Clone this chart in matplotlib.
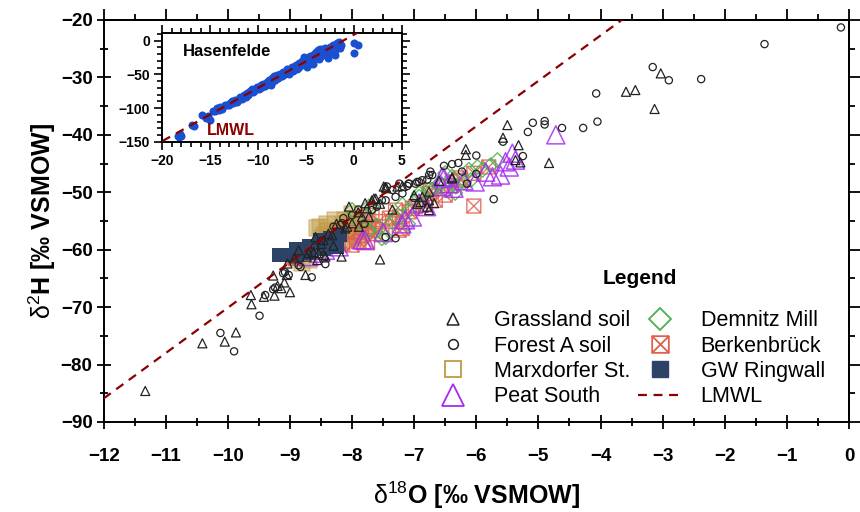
import matplotlib

matplotlib.use("Agg")
import matplotlib.pyplot as plt
from matplotlib.lines import Line2D
from matplotlib.path import Path
from matplotlib.ticker import MultipleLocator
import numpy as np

plt.rcParams["font.family"] = ["Liberation Sans", "DejaVu Sans"]
plt.rcParams["mathtext.fontset"] = "custom"
plt.rcParams["mathtext.rm"] = "Liberation Sans"
plt.rcParams["mathtext.bf"] = "Liberation Sans:bold"
plt.rcParams["mathtext.it"] = "Liberation Sans:italic"

# LMWL: d2H = slope * d18O + intercept
LMWL_SLOPE = 7.9
LMWL_INTERCEPT = 8.9

grass_x = [-11.33, -10.41, -10.05, -9.87, -9.63, -9.62, -9.42, -9.25, -9.27, -9.09,
           -9.05, -9.00, -9.14, -9.20, -9.04, -8.93, -8.75, -8.70, -8.62, -8.54,
           -8.46, -8.17, -8.05, -8.38, -8.08, -7.89, -7.84, -7.68, -7.55, -7.46,
           -8.59, -8.46, -8.32, -8.11, -8.00, -7.79, -8.86, -8.73, -8.56, -8.43,
           -7.45, -7.27, -7.19, -6.39, -6.90, -6.79, -6.76, -7.62, -7.76, -7.73,
           -6.17, -6.17, -6.39, -6.76, -6.68, -6.87, -6.76, -5.50, -5.57, -5.32,
           -4.83, -5.29, -3.03, -3.59, -3.44, -3.13, -7.90, -7.55, -7.00, -6.60,
           -8.25, -8.50, -7.65, -7.49, -5.37, -8.30, -7.35, -6.95]
grass_y = [-84.6, -76.3, -76.0, -74.4, -67.9, -69.5, -68.2, -68.0, -64.5, -65.7,
           -64.4, -67.4, -66.7, -66.3, -62.4, -61.5, -64.4, -60.6, -60.4, -60.6,
           -60.9, -61.2, -52.5, -57.2, -56.0, -56.0, -54.3, -51.4, -61.7, -49.1,
           -57.8, -58.3, -57.5, -56.3, -55.4, -51.9, -60.1, -61.2, -61.8, -61.2,
           -49.3, -49.0, -48.9, -47.6, -51.7, -52.5, -53.1, -51.1, -52.8, -54.3,
           -42.5, -43.5, -47.4, -51.4, -51.9, -50.8, -49.9, -38.3, -40.5, -41.8,
           -44.9, -44.8, -29.3, -32.5, -32.2, -35.5, -53.5, -52.0, -50.5, -48.0,
           -55.5, -59.0, -51.1, -49.0, -44.4, -59.3, -53.0, -52.0]

forest_x = [-0.13, -1.36, -3.16, -2.90, -2.38, -4.07, -4.05, -4.28, -4.62, -4.90,
            -4.90, -5.09, -5.17, -5.57, -6.00, -5.25, -5.72, -6.52, -6.39, -6.29,
            -6.74, -6.95, -7.11, -6.87, -6.23, -6.00, -6.15, -7.09, -6.98, -6.79,
            -6.71, -7.46, -7.30, -7.19, -7.46, -7.30, -10.12, -9.90, -9.49, -9.40,
            -9.27, -9.24, -9.11, -8.86, -8.43, -8.16, -8.65, -8.83, -9.08, -9.02,
            -8.14, -8.19, -7.68, -7.52, -7.44, -7.35, -7.24, -7.08, -6.92, -6.76,
            -8.00, -7.90, -7.60, -8.30, -8.50, -8.60, -7.80, -7.00]
forest_y = [-21.3, -24.2, -28.2, -30.5, -30.3, -32.8, -37.7, -38.8, -38.8, -37.6,
            -38.2, -37.9, -39.5, -41.2, -43.6, -43.7, -51.2, -45.4, -45.1, -44.9,
            -46.4, -48.2, -48.9, -47.9, -46.4, -46.8, -48.5, -48.5, -48.5, -47.8,
            -47.0, -51.4, -50.8, -50.2, -57.8, -58.0, -74.5, -77.7, -71.5, -67.9,
            -66.9, -66.6, -64.1, -62.7, -62.5, -55.4, -64.8, -63.0, -63.9, -64.4,
            -54.5, -55.7, -53.1, -51.4, -49.0, -49.6, -48.5, -48.5, -48.2, -47.0,
            -54.0, -53.0, -52.5, -56.0, -58.5, -59.5, -55.5, -51.0]

marx_x = [-8.91, -8.81, -8.70, -8.56, -8.51, -8.45, -8.38, -8.30, -8.27, -8.22,
          -8.15, -8.10, -8.05, -8.00, -7.95, -7.90, -7.85, -7.80, -8.35, -8.20,
          -8.05, -7.92, -8.48, -8.12, -7.75, -7.65, -8.40, -8.00]
marx_y = [-61.5, -62.4, -61.8, -56.3, -56.0, -57.5, -56.8, -57.9, -54.8, -56.5,
          -55.6, -57.2, -56.0, -55.0, -56.8, -55.4, -57.6, -56.3, -58.5, -58.6,
          -58.3, -57.9, -58.0, -54.9, -55.2, -56.5, -55.5, -53.8]

peat_x = [-8.70, -8.54, -8.43, -8.21, -7.84, -7.14, -7.03, -7.79, -6.55, -6.44,
          -6.55, -6.36, -6.02, -5.42, -5.37, -5.47, -5.61, -5.74, -6.52, -6.92,
          -4.72, -5.53, -7.50, -6.80, -5.85, -7.20, -6.20]
peat_y = [-61.2, -60.6, -60.1, -59.5, -58.3, -54.8, -54.3, -58.3, -47.3, -48.5,
          -49.0, -49.3, -48.2, -43.2, -44.4, -45.6, -47.0, -47.3, -47.5, -51.9,
          -40.0, -44.7, -57.0, -52.5, -46.5, -55.5, -48.0]

demnitz_x = [-8.00, -7.73, -7.46, -7.30, -7.08, -6.92, -6.71, -6.60, -7.52, -7.35,
             -7.19, -6.92, -6.76, -6.60, -6.47, -6.33, -6.50, -6.12, -5.98, -7.68,
             -7.73, -5.66, -5.77, -5.90, -6.09, -6.34, -6.39, -7.90, -7.60, -6.20,
             -7.10]
demnitz_y = [-53.1, -52.5, -57.8, -54.3, -53.1, -50.8, -49.6, -48.5, -58.0, -55.1,
             -52.2, -50.2, -49.6, -49.0, -49.6, -49.0, -46.7, -46.1, -45.6, -52.5,
             -56.6, -44.4, -45.3, -46.1, -47.9, -50.1, -47.3, -55.0, -55.8, -48.3,
             -55.5]

berk_x = [-8.91, -8.95, -8.00, -7.89, -7.73, -7.57, -7.40, -7.24, -7.08, -6.98,
          -6.82, -6.66, -6.50, -7.24, -7.35, -7.19, -7.03, -6.76, -6.25, -6.04,
          -7.30, -7.68, -7.79, -7.52, -7.63, -5.80, -6.26, -6.74, -6.04, -8.30,
          -8.15, -7.85, -7.75, -8.20, -7.95, -6.40]
berk_y = [-61.5, -61.3, -59.2, -58.6, -56.0, -55.1, -54.5, -54.3, -53.4, -52.5,
          -52.2, -51.4, -50.5, -56.6, -55.1, -56.3, -52.8, -50.2, -47.9, -46.7,
          -53.1, -54.0, -54.8, -56.0, -57.2, -45.6, -47.5, -49.6, -52.4, -58.5,
          -59.0, -57.5, -58.8, -57.0, -57.0, -48.8]

ring_x = [-9.18, -9.08, -8.90, -8.88, -8.70, -8.70, -8.52, -8.45, -8.35, -8.25, -8.20]
ring_y = [-61.0, -61.0, -59.8, -61.0, -59.3, -60.5, -58.3, -59.8, -58.0, -59.5, -57.5]

hasen_x = [-18.4, -18.2, -18.0, -18.3, -16.9, -16.7, -15.9, -15.4, -15.0, -15.2,
           -14.7, -14.5, -14.3, -14.0, -13.8, -13.5, -13.2, -12.9, -12.7, -12.4,
           -12.2, -11.9, -11.7, -11.5, -11.2, -11.0, -10.8, -10.6, -10.4, -10.1,
           -9.9, -9.7, -9.5, -9.3, -9.1, -8.9, -8.8, -8.6, -8.5, -8.3,
           -8.2, -8.0, -7.9, -7.7, -7.5, -7.4, -7.2, -7.0, -6.9, -6.7,
           -6.5, -6.4, -6.2, -6.0, -5.9, -5.7, -5.6, -5.4, -5.3, -5.2,
           -5.1, -4.9, -4.8, -4.6, -4.5, -4.3, -4.2, -4.0, -3.9, -3.7,
           -3.5, -3.4, -3.2, -3.0, -2.8, -2.7, -2.5, -2.4, -2.2, -2.0,
           -1.9, -1.8, -1.6, -1.5, -1.3, 0.0, 0.4, 0.0,
           -14.1, -13.0, -12.0, -11.3, -10.5, -9.8, -9.0, -8.4, -7.8, -7.1,
           -6.6, -6.1, -5.5, -5.0, -4.4, -3.8, -3.3, -2.6, -2.1, -1.7,
           -12.6, -10.9, -9.6, -8.1, -6.8, -5.8, -4.7, -3.6, -2.3, -1.4]
hasen_y = [-141, -139, -141, -143, -125, -127, -110, -115, -117, -112,
           -104, -105, -100, -98, -101, -96, -95, -93, -90, -88,
           -91, -84, -86, -80, -77, -80, -74, -72, -75, -69,
           -71, -66, -64, -67, -61, -58, -63, -66, -56, -53,
           -58, -51, -55, -49, -52, -46, -50, -42, -47, -44,
           -39, -45, -41, -36, -42, -33, -38, -30, -35, -24,
           -27, -39, -31, -22, -28, -34, -20, -17, -25, -14,
           -13, -22, -12, -11, -19, -25, -9, -15, -7, -21,
           -12, -4, -9, -2, -6, -4, -7, -18,
           -103, -96, -87, -83, -76, -70, -64, -60, -54, -47,
           -43, -38, -35, -30, -26, -20, -17, -14, -11, -7,
           -92, -78, -68, -57, -49, -40, -35, -27, -17, -11]

C_GOLD = "#c09a45"
C_PURPLE = "#a52cf0"
C_GREEN = "#4caf50"
C_RED = "#e0604e"
C_NAVY = "#2c4266"
C_LMWL = "#8b0000"
C_BLUE = "#1a4fd0"

# square with a cross inside (Berkenbrück)
BOXX = Path(
    [(-1, -1), (1, -1), (1, 1), (-1, 1), (-1, -1), (-1, -1), (1, 1), (-1, 1), (1, -1)],
    [Path.MOVETO, Path.LINETO, Path.LINETO, Path.LINETO, Path.CLOSEPOLY,
     Path.MOVETO, Path.LINETO, Path.MOVETO, Path.LINETO],
)


def style_ticks(axis_obj, direction, major_len, minor_len, width=1.3):
    axis_obj.tick_params(which="both", direction=direction, width=width)
    axis_obj.tick_params(which="major", length=major_len)
    axis_obj.tick_params(which="minor", length=minor_len)


fig = plt.figure(figsize=(8.6, 5.12), dpi=100)
ax = fig.add_axes([0.1205, 0.1758, 0.8667, 0.7852])

ax.scatter(marx_x, marx_y, s=11**2, marker="s", facecolors=C_GOLD, edgecolors=C_GOLD,
           alpha=0.45, linewidths=1.2, zorder=2)
ax.scatter(berk_x, berk_y, s=10**2, marker=BOXX, facecolors="none", edgecolors=C_RED,
           alpha=0.85, linewidths=1.0, zorder=3)
ax.scatter(demnitz_x, demnitz_y, s=7.5**2, marker="D", facecolors="none", edgecolors=C_GREEN,
           alpha=0.85, linewidths=1.0, zorder=3)
ax.scatter(peat_x, peat_y, s=13**2, marker="^", facecolors="none", edgecolors=C_PURPLE,
           alpha=0.85, linewidths=1.1, zorder=3)
ax.scatter(ring_x, ring_y, s=10**2, marker="s", color=C_NAVY, linewidths=0, zorder=3.5)
ax.scatter(grass_x, grass_y, s=6.5**2, marker="^", facecolors="none", edgecolors="#222222",
           linewidths=0.9, zorder=4)
ax.scatter(forest_x, forest_y, s=5.2**2, marker="o", facecolors="none", edgecolors="#222222",
           linewidths=0.9, zorder=4)

lx = np.array([-12.0, 0.0])
ax.plot(lx, LMWL_SLOPE * lx + LMWL_INTERCEPT, color=C_LMWL, lw=1.6,
        dashes=(4, 3), zorder=5)

ax.set_xlim(-12, 0)
ax.set_ylim(-90, -20)
ax.xaxis.set_major_locator(MultipleLocator(1))
ax.xaxis.set_minor_locator(MultipleLocator(0.5))
ax.yaxis.set_major_locator(MultipleLocator(10))
ax.yaxis.set_minor_locator(MultipleLocator(5))
for s in ax.spines.values():
    s.set_linewidth(1.4)
style_ticks(ax, "inout", 10, 6)
ax.tick_params(axis="x", pad=14)
ax.tick_params(axis="y", pad=3)
for lab in ax.get_xticklabels() + ax.get_yticklabels():
    lab.set_fontweight("bold")
    lab.set_fontsize(13.5)

# top and right ticks point outward
secx = ax.secondary_xaxis("top")
secx.xaxis.set_major_locator(MultipleLocator(1))
secx.xaxis.set_minor_locator(MultipleLocator(0.5))
style_ticks(secx, "out", 8, 4.5)
secx.tick_params(labeltop=False)
secx.spines["top"].set_linewidth(1.4)
secy = ax.secondary_yaxis("right")
secy.yaxis.set_major_locator(MultipleLocator(10))
secy.yaxis.set_minor_locator(MultipleLocator(5))
style_ticks(secy, "out", 8, 4.5)
secy.tick_params(labelright=False)
secy.spines["right"].set_linewidth(1.4)

ax.set_xlabel(r"$\mathrm{δ}^{\mathrm{18}}\mathbf{O\ [‰\ VSMOW]}$", fontsize=18, labelpad=10)
ax.set_ylabel(r"$\mathrm{δ}^{\mathrm{2}}\mathbf{H\ [‰\ VSMOW]}$", fontsize=18, labelpad=2)

handles = [
    Line2D([], [], ls="none", marker="^", ms=9, mfc="none", mec="#222222", mew=1.1),
    Line2D([], [], ls="none", marker="o", ms=7, mfc="none", mec="#222222", mew=1.1),
    Line2D([], [], ls="none", marker="s", ms=11.5, mfc="none", mec=C_GOLD, mew=1.3),
    Line2D([], [], ls="none", marker="^", ms=15.5, mfc="none", mec=C_PURPLE, mew=1.3),
    Line2D([], [], ls="none", marker="D", ms=11, mfc="none", mec=C_GREEN, mew=1.3),
    Line2D([], [], ls="none", marker=BOXX, ms=12, mfc="none", mec=C_RED, mew=1.3),
    Line2D([], [], ls="none", marker="s", ms=11.5, mfc=C_NAVY, mec=C_NAVY),
    Line2D([], [], color=C_LMWL, lw=1.6, dashes=(4, 3)),
]
labels = ["Grassland soil", "Forest A soil", "Marxdorfer St.", "Peat South",
          "Demnitz Mill", "Berkenbrück", "GW Ringwall", "LMWL"]
ax.legend(handles, labels, ncol=2, loc="lower right", bbox_to_anchor=(0.982, 0.01),
          frameon=False, fontsize=15.5, handlelength=2.0, handletextpad=0.9,
          columnspacing=0.35, labelspacing=0.2, borderpad=0)
ax.text(0.7196, 0.358, "Legend", transform=ax.transAxes, fontsize=15,
        fontweight="bold", ha="center", va="center")

# inset: Hasenfelde
ins = fig.add_axes([0.1887, 0.7232, 0.2784, 0.2117])
ins.scatter(hasen_x, hasen_y, s=5.8**2, color=C_BLUE, linewidths=0, zorder=2)
ix = np.array([-20.0, 2.0])
ins.plot(ix, LMWL_SLOPE * ix + LMWL_INTERCEPT, color=C_LMWL, lw=1.6, dashes=(4, 3), zorder=3)
ins.set_xlim(-20, 5)
ins.set_ylim(-150, 11)
ins.xaxis.set_major_locator(MultipleLocator(5))
ins.xaxis.set_minor_locator(MultipleLocator(1))
ins.yaxis.set_major_locator(MultipleLocator(50))
ins.yaxis.set_minor_locator(MultipleLocator(10))
for s in ins.spines.values():
    s.set_linewidth(1.4)
ins.tick_params(which="both", top=True, right=True, direction="out", width=1.2)
ins.tick_params(which="major", length=6, labelsize=10, pad=3)
ins.tick_params(which="minor", length=3.5)
for lab in ins.get_xticklabels() + ins.get_yticklabels():
    lab.set_fontweight("bold")
ins.text(0.086, 0.83, "Hasenfelde", transform=ins.transAxes, fontsize=12,
         fontweight="bold", va="center")
ins.text(0.187, 0.1, "LMWL", transform=ins.transAxes, fontsize=11.5,
         fontweight="bold", color=C_LMWL, va="center")

fig.savefig("out.png", dpi=100)
